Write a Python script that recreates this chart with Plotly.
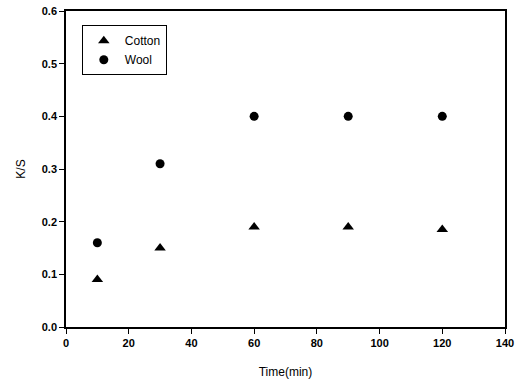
import plotly.graph_objects as go

time_min = [10, 30, 60, 90, 120]
cotton = [0.09, 0.15, 0.19, 0.19, 0.185]
wool = [0.16, 0.31, 0.40, 0.40, 0.40]
x_ticks = [0, 20, 40, 60, 80, 100, 120, 140]
y_ticks = [0.0, 0.1, 0.2, 0.3, 0.4, 0.5, 0.6]

fig = go.Figure()
fig.add_trace(go.Scatter(x=time_min, y=cotton, mode="markers", name="Cotton",
                         marker=dict(symbol="triangle-up", size=10, color="black")))
fig.add_trace(go.Scatter(x=time_min, y=wool, mode="markers", name="Wool",
                         marker=dict(symbol="circle", size=9, color="black")))

fam = "Liberation Sans, Arial, sans-serif"
fig.update_layout(
    width=524, height=384,
    margin=dict(l=66, r=19, t=11, b=57),
    paper_bgcolor="white", plot_bgcolor="white",
    font=dict(family=fam, size=11, color="black"),
    showlegend=True,
    legend=dict(x=0.036, y=0.955, xanchor="left", yanchor="top",
                bordercolor="black", borderwidth=1, bgcolor="white",
                font=dict(family=fam, size=12, color="black"),
                itemwidth=32),
)
fig.update_xaxes(range=[0, 140], tickvals=x_ticks, ticktext=[str(v) for v in x_ticks],
                 showline=True, linecolor="black", linewidth=1.5, mirror=True,
                 ticks="outside", ticklen=5, tickcolor="black", showgrid=False, zeroline=False,
                 automargin=False,
                 title=dict(text="Time(min)", standoff=20, font=dict(family=fam, size=12, color="black")),
                 tickfont=dict(family=fam, size=11, color="black", weight="bold"))
fig.update_yaxes(range=[0, 0.6], tickvals=y_ticks, ticktext=[f"{v:.1f}" for v in y_ticks],
                 showline=True, linecolor="black", linewidth=1.5, mirror=True,
                 ticks="outside", ticklen=5, tickcolor="black", showgrid=False, zeroline=False,
                 automargin=False,
                 title=dict(text="K/S", standoff=14, font=dict(family=fam, size=12, color="black")),
                 tickfont=dict(family=fam, size=11, color="black", weight="bold"))

fig.write_html("out.html")
